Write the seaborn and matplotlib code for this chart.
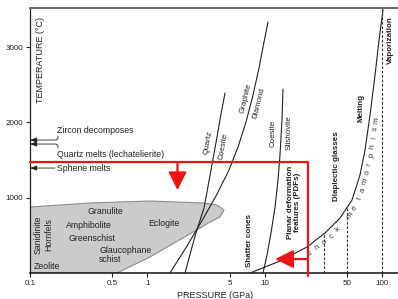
import numpy as np
import matplotlib
matplotlib.use("Agg")
import matplotlib.pyplot as plt
from matplotlib.ticker import NullLocator, FixedLocator, FixedFormatter
from matplotlib.transforms import IdentityTransform
import seaborn as sns

sns.set_style("ticks")
plt.rcParams['font.family'] = ['Liberation Sans', 'DejaVu Sans']

# axis ticks
p_ticks = [0.1, 0.5, 1, 5, 10, 50, 100]
p_tick_labels = ["0.1", "0.5", "1", "5", "10", "50", "100"]
t_ticks = [1000, 2000, 3000]

# phase boundaries (pressure GPa, temperature C)
qz_coe_p = [2.085, 2.537, 3.026, 3.471, 3.904, 4.222, 4.566]
qz_coe_t = [0, 491, 863, 1368, 1806, 2111, 2390]
gr_dia_p = [1.554, 2.169, 2.967, 3.904, 4.939, 5.892, 6.891, 7.906, 8.89, 9.806, 10.605]
gr_dia_t = [0, 359, 717, 1049, 1368, 1673, 2005, 2364, 2722, 3068, 3333]
coe_sti_p = [9.616, 10.4, 11.25, 12.17, 12.9, 13.42, 13.95, 14.23]
coe_sti_t = [0, 239, 531, 876, 1235, 1567, 2032, 2443]
shock_p = [7.455, 13.42, 22.78, 32.4, 43.5, 55.0, 64.3, 71.0, 78.3, 86.4, 93.4, 101.0]
shock_t = [0, 159, 345, 531, 730, 969, 1301, 1633, 2098, 2629, 3094, 3493]

# metamorphic facies field
facies_p = [0.1, 0.324, 1.05, 2.97, 3.90, 4.48, 4.14, 3.40, 2.80, 1.05, 0.55, 0.1]
facies_t = [876, 930, 956, 930, 903, 837, 744, 677, 598, 212, 0, 0]

# dashed shock stage limits
dashed_p = [32, 50]
vapor_p = 100

# temperatures marked on the T axis
zircon_t = 1766
quartz_t = 1713
sphene_t = 1394

# red impact box
lech_t = 1470
box_p = 23
down_arrow_p = 1.8
down_arrow_tip = 1100
left_arrow_t = 185
left_arrow_tip = 12.2

red = "#ee1414"
tc = "#222222"

fig = plt.figure(figsize=(3.98, 2.99), dpi=100)
ax = fig.add_axes([30 / 398, 26 / 299, 368 / 398, 265 / 299])
ax.set_xscale("log")
ax.set_xlim(0.1, 135.5)
ax.set_ylim(0, 3520)

# facies field
ax.fill(facies_p, facies_t, facecolor="#cbcbcb", edgecolor="#8c8c8c", lw=0.8, zorder=1)

# boundaries
for pp, tt in [(qz_coe_p, qz_coe_t), (gr_dia_p, gr_dia_t),
               (coe_sti_p, coe_sti_t), (shock_p, shock_t)]:
    sns.lineplot(x=pp, y=tt, sort=False, color=tc, lw=0.8, ax=ax, zorder=2)

for p in dashed_p:
    t0 = np.interp(np.log10(p), np.log10(shock_p), shock_t)
    ax.plot([p, p], [0, t0], color="#333333", lw=0.8, ls=(0, (2.5, 1.5)), zorder=2)
ax.axvline(vapor_p, color="#333333", lw=0.8, ls=(0, (2.5, 1.5)), zorder=2)

# red box and arrows
ax.plot([0.1, box_p], [lech_t, lech_t], color=red, lw=1.6, zorder=4, clip_on=False)
ax.plot([box_p, box_p], [lech_t, -45], color=red, lw=1.6, zorder=4, clip_on=False)
aprops = dict(arrowstyle="-|>,head_length=1.1,head_width=0.55", mutation_scale=10,
              color=red, lw=1.6, shrinkA=0, shrinkB=0)
ax.annotate("", xy=(down_arrow_p, down_arrow_tip), xytext=(down_arrow_p, lech_t),
            arrowprops=aprops, zorder=5)
ax.annotate("", xy=(left_arrow_tip, left_arrow_t), xytext=(box_p, left_arrow_t),
            arrowprops=aprops, zorder=5)

# labels at the T axis
small = dict(arrowstyle="-|>,head_length=0.4,head_width=0.15", mutation_scale=10,
             color=tc, lw=0.6, shrinkA=0, shrinkB=0)
ax.text(0.17, 1899, "Zircon decomposes", fontsize=6.3, va="center", ha="left", color=tc)
ax.text(0.17, 1580, "Quartz melts (lechatelierite)", fontsize=6.3, va="center", ha="left", color=tc)
ax.text(0.17, 1394, "Sphene melts", fontsize=6.3, va="center", ha="left", color=tc)
ax.annotate("", xy=(0.1, zircon_t), xytext=(0.173, 1819),
            arrowprops=dict(small, connectionstyle="angle,angleA=90,angleB=0,rad=3"))
ax.annotate("", xy=(0.1, quartz_t), xytext=(0.173, 1660),
            arrowprops=dict(small, connectionstyle="angle,angleA=90,angleB=0,rad=3"))
ax.annotate("", xy=(0.1, sphene_t), xytext=(0.163, sphene_t), arrowprops=small)

# facies names
fs = 6.3
ax.text(0.435, 823, "Granulite", fontsize=fs, ha="center", va="center", color=tc)
ax.text(0.318, 637, "Amphibolite", fontsize=fs, ha="center", va="center", color=tc)
ax.text(0.337, 452, "Greenschist", fontsize=fs, ha="center", va="center", color=tc)
ax.text(0.387, 239, "Glaucophane\nschist", fontsize=fs, ha="left", va="center",
        color=tc, linespacing=0.95)
ax.text(1.38, 651, "Eclogite", fontsize=fs, ha="center", va="center", color=tc)
ax.text(0.140, 80, "Zeolite", fontsize=fs, ha="center", va="center", color=tc)
ax.text(0.117, 505, "Sanidinite", fontsize=fs, ha="center", va="center", rotation=90, color=tc)
ax.text(0.145, 505, "Hornfels", fontsize=fs, ha="center", va="center", rotation=90, color=tc)

# phase names
ax.text(3.28, 1726, "Quartz", fontsize=5.8, ha="center", va="center", rotation=80, color=tc)
ax.text(4.46, 1687, "Coesite", fontsize=5.8, ha="center", va="center", rotation=80, color=tc)
ax.text(6.86, 2324, "Graphite", fontsize=5.8, ha="center", va="center", rotation=76, color=tc)
ax.text(8.9, 2258, "Diamond", fontsize=5.8, ha="center", va="center", rotation=76, color=tc)
ax.text(11.7, 1859, "Coesite", fontsize=5.8, ha="center", va="center", rotation=90, color=tc)
ax.text(16.0, 1859, "Stishovite", fontsize=5.8, ha="center", va="center", rotation=90, color=tc)

# shock stage names
bold = dict(fontsize=5.8, ha="center", va="center", rotation=90, fontweight="bold", color=tc)
ax.text(7.45, 438, "Shatter cones", **bold)
ax.text(17.7, 943, "Planar deformation\nfeatures (PDFs)", linespacing=1.0, **bold)
ax.text(41.0, 1421, "Diaplectic glasses", **bold)
ax.text(65.6, 2191, "Melting", **bold)
ax.text(116.0, 3094, "Vaporization", **bold)

ax.text(0.122, 2829, "TEMPERATURE (\u00b0C)", fontsize=6.5, rotation=90,
        ha="center", va="center", color=tc)
fig.text(215 / 398, 3 / 299, "PRESSURE (GPa)", fontsize=6.5,
         ha="center", va="center", color=tc)

# ticks and spines
ax.xaxis.set_major_locator(FixedLocator(p_ticks))
ax.xaxis.set_major_formatter(FixedFormatter(p_tick_labels))
ax.xaxis.set_minor_locator(NullLocator())
ax.set_yticks(t_ticks)
ax.tick_params(labelsize=5.8, length=3, width=0.8, pad=2, colors=tc)
ax.spines["right"].set_visible(False)
ax.spines["top"].set_color("#6b6b6b")
ax.spines["top"].set_linewidth(1.4)
ax.spines["left"].set_color(tc)
ax.spines["bottom"].set_color("#111111")
ax.spines["left"].set_linewidth(0.9)
ax.spines["bottom"].set_linewidth(1.1)

# letter-spaced text following the shock curve
fig.canvas.draw()
lp = np.log10(shock_p)
dense_lp, dense_t = [], []
for i in range(len(lp) - 1):
    dense_lp.extend(np.linspace(lp[i], lp[i + 1], 30, endpoint=False))
    dense_t.extend(np.linspace(shock_t[i], shock_t[i + 1], 30, endpoint=False))
pts = ax.transData.transform(np.column_stack([10 ** np.array(dense_lp), dense_t]))
seg = np.hypot(np.diff(pts[:, 0]), np.diff(pts[:, 1]))
arc = np.concatenate([[0], np.cumsum(seg)])
start = arc[np.searchsorted(pts[:, 0], 306)]
word = "shock metamorphism"
step = 8.8
for k, ch in enumerate(word):
    s = start + k * step
    x = np.interp(s, arc, pts[:, 0])
    y = np.interp(s, arc, pts[:, 1])
    dx = np.interp(s + 2, arc, pts[:, 0]) - np.interp(s - 2, arc, pts[:, 0])
    dy = np.interp(s + 2, arc, pts[:, 1]) - np.interp(s - 2, arc, pts[:, 1])
    n = np.hypot(dx, dy)
    tx, ty = dx / n, dy / n
    off = 7
    ax.text(x + ty * off, y - tx * off, ch, transform=IdentityTransform(),
            rotation=np.degrees(np.arctan2(ty, tx)), rotation_mode="anchor",
            fontsize=5.8, ha="center", va="center", color="#333333")

fig.savefig("out.png", dpi=100)
